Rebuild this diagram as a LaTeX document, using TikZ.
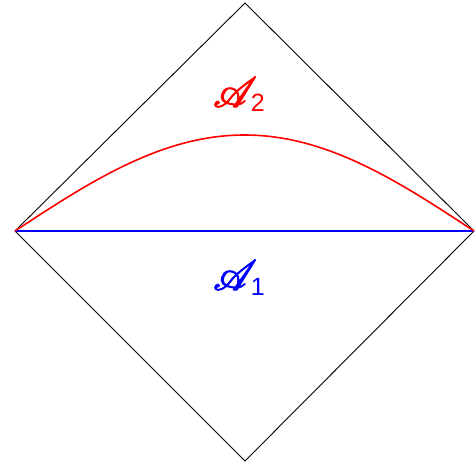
\documentclass[tikz,border=0pt]{standalone}
\usepackage{mathrsfs}
\usepackage{graphicx}
\usepackage{fontspec}
\newfontfamily\subfont{Liberation Sans}
\newcommand{\fakebold}[1]{\special{pdf:literal direct 2 Tr 0.6 w}#1\special{pdf:literal direct 0 Tr}}
\newcommand{\scrA}{\scalebox{1.7}{\fontsize{24.88}{25}\selectfont\fakebold{$\mathscr{A}$}}}
\begin{document}
\begin{tikzpicture}[x=1pt,y=-1pt,
  edge/.style={black,line width=0.9pt},
  lbl/.style={inner sep=0pt,anchor=base west}]
\useasboundingbox (0,0) rectangle (476,468);
\coordinate (T) at (245,3);
\coordinate (L) at (15,231);
\coordinate (R) at (474,231);
\coordinate (B) at (245,461);
\draw[edge] (L) -- (T) -- (R) -- (B) -- cycle;
\draw[blue,line width=1.2pt] (L) -- (R);
\draw[red,line width=1.6pt,smooth,samples=80,domain=15:474]
  plot (\x,{231-96*sin(0.392157*(\x-15))});
\node[lbl,red] (a2) at (213,107) {\scrA\kern-6pt\raisebox{-5pt}{\fontsize{25}{25}\subfont 2}};
\node[lbl,blue] (a1) at (213,290) {\scrA\kern-6pt\raisebox{-5pt}{\fontsize{25}{25}\subfont 1}};
\end{tikzpicture}
\end{document}
